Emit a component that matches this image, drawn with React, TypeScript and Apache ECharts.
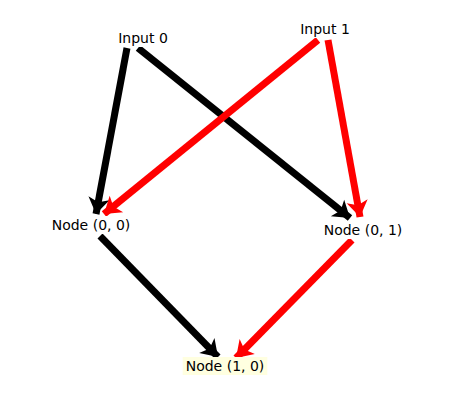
import React, { useEffect, useRef } from "react";
import * as echarts from "echarts";

const labelNodes = [
  { name: "Input 0", pos: [143, 38], bg: "#ffffff" },
  { name: "Input 1", pos: [325, 29], bg: "#ffffff" },
  { name: "Node (0, 0)", pos: [91, 225], bg: "#ffffff" },
  { name: "Node (0, 1)", pos: [363, 230], bg: "#ffffff" },
  { name: "Node (1, 0)", pos: [225, 366], bg: "#ffffe0" },
];

// edge: from point, to point, colour
const edgeList = [
  { from: [127, 48], to: [96, 214], color: "#000000" },
  { from: [138, 48], to: [350, 218], color: "#000000" },
  { from: [318, 40], to: [104, 214], color: "#ff0000" },
  { from: [328, 40], to: [360, 217], color: "#ff0000" },
  { from: [100, 236], to: [218, 357], color: "#000000" },
  { from: [352, 240], to: [236, 358], color: "#ff0000" },
];

export default function App() {
  const ref = useRef<HTMLDivElement>(null);
  useEffect(() => {
    const chart = echarts.init(ref.current!, null, { renderer: "svg" });
    const data: any[] = [];
    const links: any[] = [];
    edgeList.forEach((e, i) => {
      data.push({ name: "a" + i, value: e.from, symbolSize: 0, label: { show: false } });
      data.push({ name: "b" + i, value: e.to, symbolSize: 0, label: { show: false } });
      links.push({ source: "a" + i, target: "b" + i, lineStyle: { color: e.color } });
    });
    labelNodes.forEach((n) => {
      data.push({
        name: n.name,
        value: n.pos,
        symbolSize: 0,
        label: {
          show: true,
          position: "inside",
          formatter: n.name,
          color: "#000",
          fontSize: 14,
          fontFamily: "DejaVu Sans",
          backgroundColor: n.bg,
          padding: [2, 3],
        },
      });
    });
    chart.setOption({
      animation: false,
      grid: { left: 0, right: 0, top: 0, bottom: 0 },
      xAxis: { type: "value", min: 0, max: 464, show: false },
      yAxis: { type: "value", min: 0, max: 417, inverse: true, show: false },
      series: [
        {
          type: "graph",
          coordinateSystem: "cartesian2d",
          layout: "none",
          silent: true,
          data,
          links,
          edgeSymbol: ["none", "arrow"],
          edgeSymbolSize: [0, 16],
          lineStyle: { width: 7, opacity: 1 },
        },
      ],
    });
    return () => chart.dispose();
  }, []);
  return <div ref={ref} style={{ position: "absolute", left: 0, top: 0, width: 464, height: 417 }} />;
}
